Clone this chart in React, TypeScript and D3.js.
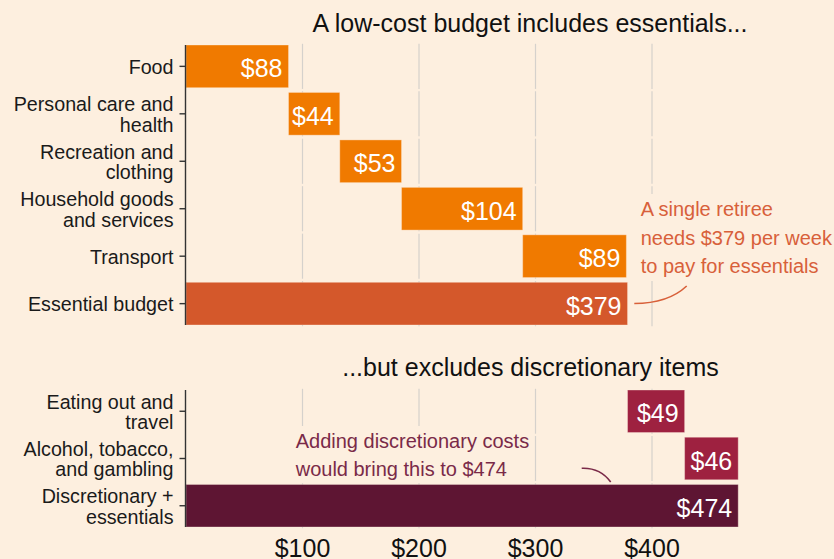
import React from "react";
import * as d3 from "d3";

// ---------- Data ----------
const TOP_CATEGORIES = ["Food", "Personal care", "Recreation", "Household", "Transport", "Essential budget"];
const TOP_LABELS: string[][] = [
  ["Food"],
  ["Personal care and", "health"],
  ["Recreation and", "clothing"],
  ["Household goods", "and services"],
  ["Transport"],
  ["Essential budget"],
];
const TOP_VALUES = [88, 44, 53, 104, 89];
const ESSENTIAL_TOTAL = 379;

const BOTTOM_CATEGORIES = ["Eating out", "Alcohol", "Discretionary total"];
const BOTTOM_LABELS: string[][] = [
  ["Eating out and", "travel"],
  ["Alcohol, tobacco,", "and gambling"],
  ["Discretionary +", "essentials"],
];
const BOTTOM_VALUES = [49, 46];
const DISCRETIONARY_TOTAL = 474;

const X_TICKS = [100, 200, 300, 400];

const TOP_TITLE = "A low-cost budget includes essentials...";
const BOTTOM_TITLE = "...but excludes discretionary items";
const TOP_NOTE = ["A single retiree", "needs $379 per week", "to pay for essentials"];
const BOTTOM_NOTE = ["Adding discretionary costs", "would bring this to $474"];

// ---------- Styles ----------
const W = 834;
const H = 559;
const BG = "#fdefdf";
const FONT = "'Liberation Sans', Arial, Helvetica, sans-serif";
const C_COMP_TOP = "#f07a00";
const C_TOTAL_TOP = "#d4582b";
const C_COMP_BOT = "#9e2140";
const C_TOTAL_BOT = "#5e1533";
const C_NOTE_TOP = "#d8603a";
const C_NOTE_BOT = "#7a2a48";
const C_GRID = "#d5d1cc";
const C_AXIS = "#333";

type Bar = { cat: string; x0: number; x1: number; value: number; color: string };

function buildBars(cats: string[], values: number[], start: number, total: number, compColor: string, totalColor: string): Bar[] {
  const bars: Bar[] = [];
  let acc = start;
  values.forEach((v, i) => {
    bars.push({ cat: cats[i], x0: acc, x1: acc + v, value: v, color: compColor });
    acc += v;
  });
  bars.push({ cat: cats[cats.length - 1], x0: 0, x1: total, value: total, color: totalColor });
  return bars;
}

export default function App() {
  const x = d3.scaleLinear().domain([0, 400]).range([186, 652]);

  const yTop = d3.scaleBand<string>().domain(TOP_CATEGORIES).range([45, 325]).paddingInner(0.1).paddingOuter(0);
  const yBot = d3.scaleBand<string>().domain(BOTTOM_CATEGORIES).range([390, 527]).paddingInner(0.1).paddingOuter(0);

  const topBars = buildBars(TOP_CATEGORIES, TOP_VALUES, 0, ESSENTIAL_TOTAL, C_COMP_TOP, C_TOTAL_TOP);
  const botBars = buildBars(BOTTOM_CATEGORIES, BOTTOM_VALUES, ESSENTIAL_TOTAL, DISCRETIONARY_TOTAL, C_COMP_BOT, C_TOTAL_BOT);

  const labelFont = 19.7;
  const lineH = 20.7;

  const panel = (
    y: d3.ScaleBand<string>,
    cats: string[],
    labels: string[][],
    bars: Bar[],
    mask: { x: number; y: number; w: number; h: number }
  ) => {
    const bw = y.bandwidth();
    const r = y.range();
    return (
      <g>
        {/* gridlines per row */}
        {cats.map((c) =>
          X_TICKS.map((t) => (
            <line
              key={c + t}
              x1={x(t)}
              x2={x(t)}
              y1={(y(c) as number) - 1.2}
              y2={(y(c) as number) + bw + 1.2}
              stroke={C_GRID}
              strokeWidth={1.2}
            />
          ))
        )}
        <rect x={mask.x} y={mask.y} width={mask.w} height={mask.h} fill={BG} />
        {/* bars */}
        {bars.map((b) => (
          <g key={b.cat}>
            <rect
              x={x(b.x0)}
              y={y(b.cat)}
              width={x(b.x1) - x(b.x0)}
              height={bw}
              fill={b.color}
              stroke="rgba(255,240,225,0.35)"
              strokeWidth={1}
            />
            <text
              x={x(b.x1) - 6}
              y={(y(b.cat) as number) + bw / 2 + 11}
              textAnchor="end"
              fill="#fff"
              fontSize={25}
              fontFamily={FONT}
            >
              {"$" + b.value}
            </text>
          </g>
        ))}
        {/* axis */}
        <line x1={185.5} x2={185.5} y1={r[0]} y2={r[1]} stroke={C_AXIS} strokeWidth={1.4} />
        {cats.map((c, i) => {
          const cy = (y(c) as number) + bw / 2;
          const lines = labels[i];
          const first = cy + 7.6 - ((lines.length - 1) * lineH) / 2;
          return (
            <g key={c}>
              <line x1={179.5} x2={185.5} y1={cy} y2={cy} stroke={C_AXIS} strokeWidth={1.4} />
              <text textAnchor="end" fontSize={labelFont} fontFamily={FONT} fill="#1a1a1a">
                {lines.map((l, j) => (
                  <tspan key={j} x={173.5} y={first + j * lineH}>
                    {l}
                  </tspan>
                ))}
              </text>
            </g>
          );
        })}
      </g>
    );
  };

  return (
    <svg
      width={W}
      height={H}
      viewBox={`0 0 ${W} ${H}`}
      style={{ position: "absolute", left: 0, top: 0, display: "block" }}
    >
      <rect x={0} y={0} width={W} height={H} fill={BG} />

      <text x={530} y={32} textAnchor="middle" fontSize={25} fontFamily={FONT} fill="#111">
        {TOP_TITLE}
      </text>
      <text x={530.5} y={375.7} textAnchor="middle" fontSize={25} fontFamily={FONT} fill="#111">
        {BOTTOM_TITLE}
      </text>

      {panel(yTop, TOP_CATEGORIES, TOP_LABELS, topBars, { x: 632, y: 194, w: 202, h: 86 })}
      {panel(yBot, BOTTOM_CATEGORIES, BOTTOM_LABELS, botBars, { x: 289, y: 426, w: 244, h: 56 })}

      {/* annotations */}
      <text fontSize={20} fontFamily={FONT} fill={C_NOTE_TOP}>
        {TOP_NOTE.map((l, j) => (
          <tspan key={j} x={640.7} y={215.7 + j * 28.8}>
            {l}
          </tspan>
        ))}
      </text>
      <path d="M634.3,303.5 Q668,303.5 686.7,286" fill="none" stroke={C_NOTE_TOP} strokeWidth={1.6} />

      <text fontSize={20} fontFamily={FONT} fill={C_NOTE_BOT}>
        {BOTTOM_NOTE.map((l, j) => (
          <tspan key={j} x={295.7} y={448.3 + j * 27.7}>
            {l}
          </tspan>
        ))}
      </text>
      <path d="M581.7,468.3 Q600,467.5 610.7,482" fill="none" stroke={C_NOTE_BOT} strokeWidth={1.6} />

      {/* x tick labels */}
      {X_TICKS.map((t) => (
        <text key={t} x={x(t)} y={557} textAnchor="middle" fontSize={25} fontFamily={FONT} fill="#111">
          {"$" + t}
        </text>
      ))}
    </svg>
  );
}
